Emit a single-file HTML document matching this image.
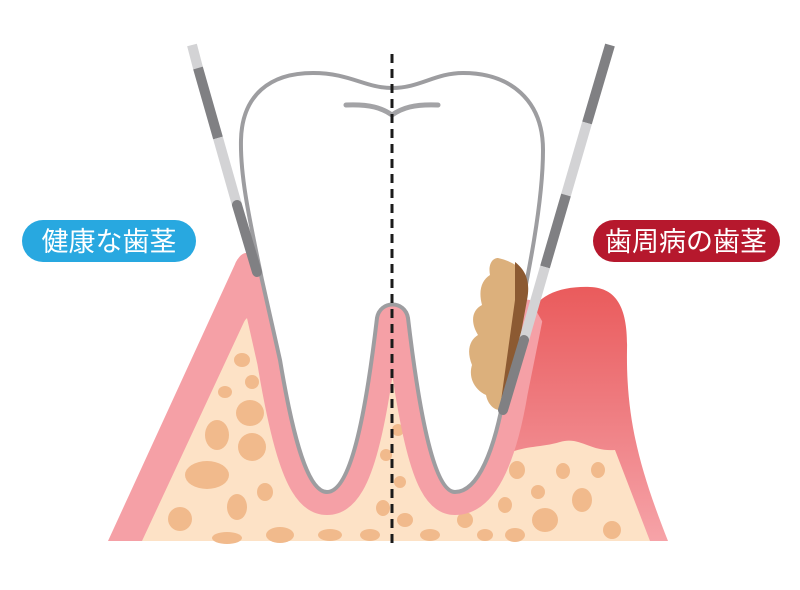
<!DOCTYPE html>
<html><head><meta charset="utf-8"><style>
html,body{margin:0;padding:0;background:#fff;}
svg{display:block;}
.lbl{font-family:"Liberation Sans","Noto Sans CJK JP",sans-serif;font-size:27px;fill:#fff;}
</style></head><body>
<svg width="800" height="590" viewBox="0 0 800 590" xmlns="http://www.w3.org/2000/svg">
<defs>
<linearGradient id="dg" x1="0" y1="0" x2="0" y2="1">
<stop offset="0" stop-color="#ea5b5c"/><stop offset="0.45" stop-color="#ee7a7e"/><stop offset="1" stop-color="#f6a3a8"/>
</linearGradient>
<clipPath id="gc"><path d="M108,541 L236,262 Q246,244 258,262 L530,300 L668,541 Z"/></clipPath>
</defs>

<path d="M108,541 L236,262 Q246,244 258,262 L520,310 L520,541 Z" fill="#f5a0a6"/>
<path d="M505,541 L505,400 L528,320 C535,295 560,286 590,287 C618,288 628,310 627,350 C626,420 640,470 668,541 Z" fill="url(#dg)"/>

<path d="M142,541 L244,322 Q249,312 255,325 L300,430 L392,330 L470,460 L505,455 C525,445 540,448 560,442 C580,436 590,452 615,450 L650,541 Z" fill="#fde2c6"/>
<g fill="#f1ba8c">
<ellipse cx="242" cy="360" rx="8" ry="7"/><ellipse cx="252" cy="382" rx="7" ry="7"/>
<ellipse cx="225" cy="392" rx="7" ry="6"/><ellipse cx="250" cy="413" rx="14" ry="13"/>
<ellipse cx="217" cy="435" rx="12" ry="15"/><ellipse cx="252" cy="447" rx="14" ry="14"/>
<ellipse cx="207" cy="475" rx="22" ry="14"/><ellipse cx="265" cy="492" rx="8" ry="9"/>
<ellipse cx="237" cy="507" rx="10" ry="13"/><ellipse cx="180" cy="519" rx="12" ry="12"/>
<ellipse cx="280" cy="535" rx="14" ry="8"/><ellipse cx="227" cy="538" rx="15" ry="6"/>
<ellipse cx="330" cy="535" rx="12" ry="6"/><ellipse cx="370" cy="535" rx="10" ry="6"/>
<ellipse cx="398" cy="430" rx="6" ry="6"/><ellipse cx="386" cy="455" rx="6" ry="6"/>
<ellipse cx="400" cy="482" rx="6" ry="6"/><ellipse cx="383" cy="508" rx="7" ry="8"/>
<ellipse cx="405" cy="520" rx="8" ry="7"/><ellipse cx="430" cy="535" rx="10" ry="6"/>
<ellipse cx="517" cy="470" rx="8" ry="9"/><ellipse cx="563" cy="471" rx="7" ry="8"/>
<ellipse cx="598" cy="470" rx="7" ry="8"/><ellipse cx="538" cy="492" rx="7" ry="7"/>
<ellipse cx="505" cy="505" rx="7" ry="8"/><ellipse cx="582" cy="500" rx="10" ry="12"/>
<ellipse cx="545" cy="520" rx="13" ry="12"/><ellipse cx="515" cy="535" rx="10" ry="7"/>
<ellipse cx="612" cy="530" rx="9" ry="9"/><ellipse cx="465" cy="520" rx="8" ry="8"/>
<ellipse cx="485" cy="535" rx="8" ry="6"/>
</g>

<g clip-path="url(#gc)">
<path d="M262,280 C252,230 240,180 241,140 C242,95 270,73 313,73 C350,73 365,88 392,88 C420,88 435,73 463,73 C510,73 543,100 543,150 C543,210 525,290 505,390 C495,450 478,492 455,492 C435,492 420,420 408,318 C405,300 380,300 377,318 C365,420 350,492 327,492 C305,492 290,420 280,360 Z" fill="none" stroke="#f5a0a6" stroke-width="46" stroke-linejoin="round"/>
</g>
<path d="M262,280 C252,230 240,180 241,140 C242,95 270,73 313,73 C350,73 365,88 392,88 C420,88 435,73 463,73 C510,73 543,100 543,150 C543,210 525,290 505,390 C495,450 478,492 455,492 C435,492 420,420 408,318 C405,300 380,300 377,318 C365,420 350,492 327,492 C305,492 290,420 280,360 Z" fill="#fff" stroke="#9d9da0" stroke-width="4"/>
<path d="M346,105 C370,104 382,108 392,115 C402,108 414,104 438,105" fill="none" stroke="#a3a3a6" stroke-width="5" stroke-linecap="round"/>

<path d="M498,258 C515,262 528,270 525,290 L505,410 C495,412 488,405 486,395 C475,390 468,378 472,365 C466,350 470,340 478,335 C470,322 472,310 482,305 C478,290 482,280 490,275 C488,265 492,258 498,258 Z" fill="#dcb07c"/>
<path d="M515,262 C528,272 530,285 527,300 L507,410 L500,408 L515,300 Z" fill="#8c5a32"/>

<g stroke-linecap="butt" stroke-width="10">
<line x1="192" y1="45" x2="198" y2="68" stroke="#d3d3d5"/>
<line x1="198" y1="68" x2="218" y2="138" stroke="#808083"/>
<line x1="218" y1="138" x2="237" y2="205" stroke="#d3d3d5"/>
<line x1="237" y1="205" x2="257" y2="272" stroke="#808083" stroke-linecap="round"/>
</g>
<g stroke-linecap="butt" stroke-width="10">
<line x1="610" y1="45" x2="587" y2="123" stroke="#808083"/>
<line x1="587" y1="123" x2="566" y2="195" stroke="#d3d3d5"/>
<line x1="566" y1="195" x2="545" y2="267" stroke="#808083"/>
<line x1="545" y1="267" x2="524" y2="340" stroke="#d3d3d5"/>
<line x1="524" y1="340" x2="503" y2="410" stroke="#808083" stroke-linecap="round"/>
</g>

<line x1="392" y1="54" x2="392" y2="546" stroke="#1a1a1a" stroke-width="3" stroke-dasharray="9,6"/>

<rect x="22" y="220" width="174" height="42" rx="21" fill="#28a8e0"/>
<text class="lbl" x="109" y="251" text-anchor="middle">健康な歯茎</text>
<rect x="593" y="220" width="187" height="42" rx="21" fill="#b6182d"/>
<text class="lbl" x="686" y="251" text-anchor="middle">歯周病の歯茎</text>
</svg>
</body></html>
